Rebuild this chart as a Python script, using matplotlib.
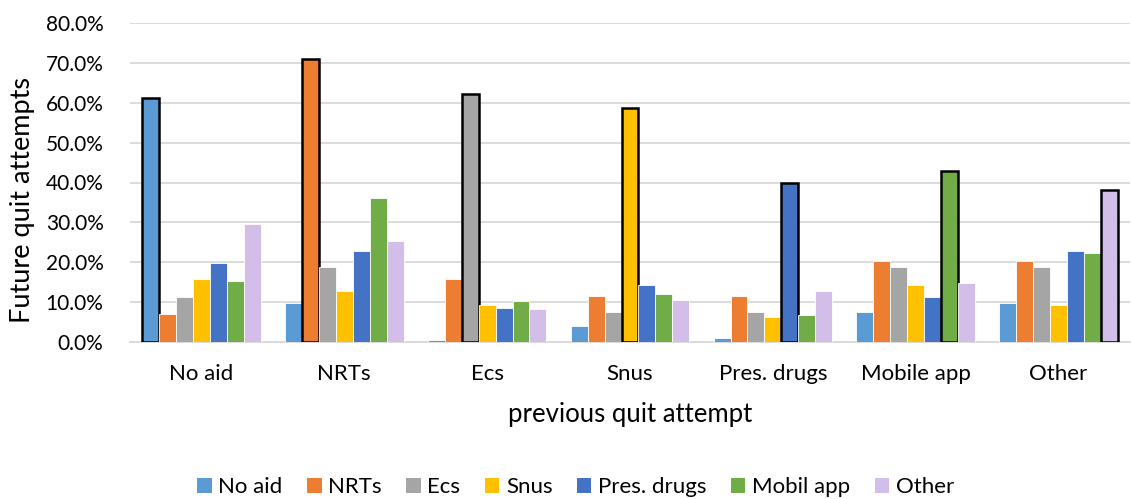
import matplotlib
matplotlib.use("Agg")
import matplotlib.pyplot as plt
import numpy as np
from matplotlib.ticker import FuncFormatter
from matplotlib.patches import Patch

categories = ["No aid", "NRTs", "Ecs", "Snus", "Pres. drugs", "Mobile app", "Other"]
series_names = ["No aid", "NRTs", "Ecs", "Snus", "Pres. drugs", "Mobil app", "Other"]
colors = ["#5B9BD5", "#ED7D31", "#A5A5A5", "#FFC000", "#4472C4", "#70AD47", "#D3BDE9"]

# rows: series (future quit attempt), columns: categories (previous quit attempt)
no_aid =    [61.1, 9.7, 0.5, 4.0, 1.1, 7.4, 9.7]
nrts =      [7.1, 70.9, 15.9, 11.5, 11.5, 20.2, 20.2]
ecs =       [11.2, 18.7, 62.3, 7.5, 7.5, 18.7, 18.7]
snus =      [15.8, 12.7, 9.4, 58.6, 6.3, 14.2, 9.4]
pres =      [19.9, 22.8, 8.6, 14.2, 39.9, 11.3, 22.8]
mobil =     [15.4, 36.1, 10.2, 12.0, 6.8, 43.0, 22.3]
other =     [29.6, 25.4, 8.4, 10.6, 12.7, 14.8, 38.1]
series = [no_aid, nrts, ecs, snus, pres, mobil, other]

plt.rcParams['font.family'] = ['Lato', 'DejaVu Sans']

fig = plt.figure(figsize=(11.31, 4.99), dpi=100)
ax = fig.add_axes([130/1131, 1-342/499, 1000/1131, (342-23)/499])

n = len(series)
group_w = 0.83
bw = group_w / n
x = np.arange(len(categories))
for i, (name, vals, col) in enumerate(zip(series_names, series, colors)):
    pos = x - group_w/2 + bw*(i+0.5)
    edges = ['black' if j == i else 'white' for j in range(len(categories))]
    lws = [1.8 if j == i else 0.6 for j in range(len(categories))]
    ax.bar(pos, vals, width=bw, color=col, edgecolor=edges, linewidth=lws,
           label=name, zorder=3)

ax.set_xlim(-0.5, len(categories)-0.5)
ax.set_ylim(0, 80)
ax.set_yticks(np.arange(0, 81, 10))
ax.yaxis.set_major_formatter(FuncFormatter(lambda v, p: f"{v:.1f}%"))
ax.grid(axis='y', color='#D9D9D9', linewidth=1.3, zorder=0)
for s in ['top', 'right', 'left']:
    ax.spines[s].set_visible(False)
ax.spines['bottom'].set_color('#D9D9D9')
ax.spines['bottom'].set_linewidth(1.3)
ax.tick_params(axis='both', length=0, colors='black')
ax.tick_params(axis='y', pad=19, labelsize=15)
ax.tick_params(axis='x', pad=16, labelsize=16)
ax.set_xticks(x)
ax.set_xticklabels(categories)
ax.set_xlabel("previous quit attempt", fontsize=18.5, labelpad=13)
ax.set_ylabel("Future quit attempts", fontsize=19.5)
ax.yaxis.set_label_coords(-0.095, 0.445)

h2 = [Patch(facecolor=c, edgecolor='none') for c in colors]
fig.legend(h2, series_names, loc='center', bbox_to_anchor=(0.509, 1-487/499), ncol=7,
           frameon=False, fontsize=16, handlelength=0.65, handleheight=0.65,
           handletextpad=0.3, columnspacing=1.1)

fig.savefig("out.png", dpi=100)
